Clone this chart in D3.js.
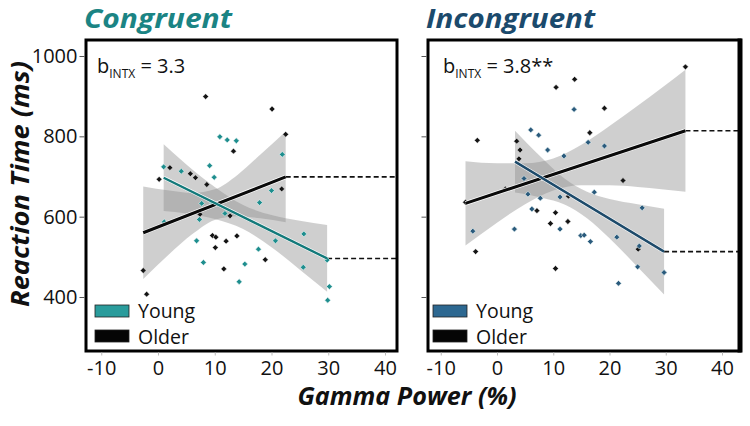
<!DOCTYPE html>
<html><head><meta charset="utf-8">
<script src="https://cdn.jsdelivr.net/npm/d3@7"></script>
<style>body{margin:0;background:#fff}svg{display:block}</style>
</head><body><svg id="c" width="750" height="426"></svg>
<script>
// ---------- data ----------
const panels = ["Congruent", "Incongruent"];
const annotations = ["3.3", "3.8**"];
const xTicks = [-10, 0, 10, 20, 30, 40];
const yTicks = [400, 600, 800, 1000];
const groups = ["Young", "Older"];

// Congruent
const congYoung = [[10.9,799],[12.2,791],[13.8,789],[21.9,755],[1,724],[4.1,713],[9.1,727],[9.9,698],[20,665],[17.9,635],[7.7,633],[9.5,636],[7.3,593],[1.1,587],[11.8,608],[6.8,540],[20.7,540],[25.7,557],[17.7,519],[8,486],[15.3,482],[25.6,474],[29.8,492],[14.3,438],[30.2,426],[29.9,392]];
const congOlder = [[8.4,899],[20.1,868],[22.5,805],[13.3,763],[2.1,722],[0.2,693],[5.7,707],[6.6,697],[8.6,680],[21.8,669],[12.7,602],[7.4,606],[9.6,553],[10.2,549],[12,539],[13.9,552],[10.1,523],[18.9,493],[11.6,470],[-2.6,466],[-2,407]];
const congYoungFit = [[1,697],[29.8,496]];
const congOlderFit = [[-2.6,560],[22.5,699]];
const congYoungBand = [[1,614,780],[5,608,730],[10,594,674],[15,569,629],[20,524,604],[25,468,590],[29.8,413,579]];
const congOlderBand = [[-2.6,445,675],[2,507,665],[6,556,659],[10,592,668],[14,601,704],[18,596,754],[22.5,586,812]];

// Incongruent
const incYoung = [[13.7,867],[6,816],[7.4,803],[16.2,785],[19.1,776],[9,766],[11.9,751],[4.8,695],[5.5,656],[7.7,646],[11.2,649],[17.3,661],[25.8,622],[6.2,619],[-4.3,564],[3.1,569],[11.2,569],[14.9,553],[15.5,554],[16.6,538],[21.3,549],[25.3,527],[25,475],[29.7,461],[21.6,434]];
const incOlder = [[33.5,973],[10.5,922],[13.8,942],[19.1,870],[-3.5,790],[16.5,809],[3.5,788],[4.1,766],[3.9,744],[22.4,690],[1.5,669],[-5.6,636],[12.7,651],[7.1,615],[10.4,610],[9.5,583],[12.6,588],[-3.8,513],[25.1,519],[10.4,471]];
const incYoungFit = [[3.2,737],[29.7,513]];
const incOlderFit = [[-5.6,633],[33.5,814]];
const incYoungBand = [[3.2,660,814],[8,647,746],[12,630,695],[16,596,662],[20,546,644],[25,475,631],[29.7,406,620]];
const incOlderBand = [[-5.6,528,738],[0,585,733],[5,631,733],[10,665,745],[15,678,779],[20,678,826],[25,674,876],[33.5,662,966]];

// ---------- drawing ----------
const svg = d3.select("#c");
const FONT = "'Open Sans', 'Noto Sans', sans-serif";
const cfg = [
  {name: panels[0], ann: annotations[0], left: 86, right: 397, x0: 158, x40: 385, titleW: 148, annX: 97, legX: 95,
   title: "#1b8484", young: "#1e8e8e", youngLine: "#13797a", legend: "#2a9c9c",
   yPts: congYoung, oPts: congOlder, yFit: congYoungFit, oFit: congOlderFit,
   yBand: congYoungBand, oBand: congOlderBand, showYLabels: true, rightW: 3},
  {name: panels[1], ann: annotations[1], left: 428, right: 740, x0: 497, x40: 722, titleW: 169, annX: 443, legX: 433,
   title: "#1b4a6c", young: "#2a5a7c", youngLine: "#1d4a6a", legend: "#2d6891",
   yPts: incYoung, oPts: incOlder, yFit: incYoungFit, oFit: incOlderFit,
   yBand: incYoungBand, oBand: incOlderBand, showYLabels: false, rightW: 5}
];
const frameTop = 40, frameBottom = 351;
const y = d3.scaleLinear().domain([400, 1000]).range([297, 56]);

cfg.forEach((p, i) => {
  const x = d3.scaleLinear().domain([0, 40]).range([p.x0, p.x40]);
  const g = svg.append("g");
  const clipId = "clip" + i;
  svg.append("clipPath").attr("id", clipId).append("rect")
    .attr("x", p.left).attr("y", frameTop).attr("width", p.right - p.left).attr("height", frameBottom - frameTop);
  const inner = g.append("g").attr("clip-path", `url(#${clipId})`);

  // bands
  const area = d3.area().x(d => x(d[0])).y0(d => y(d[1])).y1(d => y(d[2])).curve(d3.curveMonotoneX);
  [p.oBand, p.yBand].forEach(b => {
    inner.append("path").attr("d", area(b)).attr("fill", "#8c8c8c").attr("fill-opacity", 0.42);
  });

  // dashed extensions
  [p.yFit, p.oFit].forEach(f => {
    const e = f[1];
    inner.append("line").attr("x1", x(e[0])).attr("x2", p.right).attr("y1", y(e[1])).attr("y2", y(e[1]))
      .attr("stroke", "#111").attr("stroke-width", 1.6).attr("stroke-dasharray", "5,3");
  });

  // points
  const sym = d3.symbol().type(d3.symbolSquare).size(17);
  inner.selectAll(".po").data(p.oPts).join("path")
    .attr("transform", d => `translate(${x(d[0])},${y(d[1])}) rotate(45)`).attr("d", sym)
    .attr("fill", "#141414").attr("stroke", "#f2f2f2").attr("stroke-width", 0.5);
  inner.selectAll(".py").data(p.yPts).join("path")
    .attr("transform", d => `translate(${x(d[0])},${y(d[1])}) rotate(45)`).attr("d", sym)
    .attr("fill", p.young).attr("stroke", "#e6f2f2").attr("stroke-width", 0.6);

  // fit lines
  const line = d3.line().x(d => x(d[0])).y(d => y(d[1]));
  inner.append("path").attr("d", line(p.oFit)).attr("stroke", "#fff").attr("stroke-width", 4.5).attr("fill", "none");
  inner.append("path").attr("d", line(p.oFit)).attr("stroke", "#0a0a0a").attr("stroke-width", 3).attr("fill", "none");
  inner.append("path").attr("d", line(p.yFit)).attr("stroke", "#fff").attr("stroke-width", 3.6).attr("fill", "none");
  inner.append("path").attr("d", line(p.yFit)).attr("stroke", p.youngLine).attr("stroke-width", 2.4).attr("fill", "none");

  // frame
  g.append("rect").attr("x", p.left).attr("y", frameTop).attr("width", p.right - p.left).attr("height", frameBottom - frameTop)
    .attr("fill", "none").attr("stroke", "#000").attr("stroke-width", 3);
  if (p.rightW > 3) {
    g.append("line").attr("x1", p.right).attr("x2", p.right).attr("y1", frameTop - 1.5).attr("y2", frameBottom + 1.5)
      .attr("stroke", "#000").attr("stroke-width", p.rightW);
  }

  // y axis
  const yAxis = d3.axisLeft(y).tickValues(yTicks).tickSize(5).tickPadding(2)
    .tickFormat(p.showYLabels ? (d => String(d)) : "");
  const ya = g.append("g").attr("transform", `translate(${p.left - 1.5},0)`).call(yAxis);
  ya.select(".domain").remove();
  ya.selectAll("line").attr("stroke", "#555");
  ya.selectAll("text").attr("font-family", FONT).attr("font-size", 20).attr("fill", "#111");

  // x axis
  const xAxis = d3.axisBottom(x).tickValues(xTicks).tickSize(3).tickPadding(5).tickFormat(d => String(d));
  const xa = g.append("g").attr("transform", `translate(0,${frameBottom + 1.5})`).call(xAxis);
  xa.select(".domain").remove();
  xa.selectAll("line").attr("stroke", "#bbb");
  xa.selectAll("text").attr("font-family", FONT).attr("font-size", 20).attr("fill", "#111");

  // title
  g.append("text").attr("x", p.left - 2).attr("y", 28).text(p.name)
    .attr("font-family", FONT).attr("font-weight", 700).attr("font-style", "italic")
    .attr("font-size", 26).attr("fill", p.title)
    .attr("textLength", p.titleW).attr("lengthAdjust", "spacingAndGlyphs");

  // annotation
  const t = g.append("text").attr("x", p.annX).attr("y", 73)
    .attr("font-family", FONT).attr("font-size", 20).attr("fill", "#111");
  t.append("tspan").text("b");
  t.append("tspan").text("INTX").attr("font-size", 12).attr("dy", 5);
  t.append("tspan").text(" = " + p.ann).attr("dy", -5);

  // legend
  const lx = p.legX;
  const lg = g.append("g");
  [[groups[0], p.legend, 305, 318], [groups[1], "#050505", 330, 344]].forEach(([lab, col, yy, tb]) => {
    lg.append("rect").attr("x", lx).attr("y", yy).attr("width", 34).attr("height", 12)
      .attr("fill", col).attr("stroke", "#222").attr("stroke-width", 0.8);
    lg.append("text").attr("x", lx + 43).attr("y", tb).text(lab)
      .attr("font-family", FONT).attr("font-size", 19.5).attr("fill", "#111");
  });
});

// axis titles
svg.append("text").attr("transform", "translate(29,184) rotate(-90)").attr("text-anchor", "middle")
  .text("Reaction Time (ms)").attr("font-family", FONT).attr("font-weight", 700).attr("font-style", "italic")
  .attr("font-size", 25).attr("fill", "#111")
  .attr("textLength", 246).attr("lengthAdjust", "spacingAndGlyphs");
svg.append("text").attr("x", 407).attr("y", 405).attr("text-anchor", "middle")
  .text("Gamma Power (%)").attr("font-family", FONT).attr("font-weight", 700).attr("font-style", "italic")
  .attr("font-size", 25).attr("fill", "#111")
  .attr("textLength", 219).attr("lengthAdjust", "spacingAndGlyphs");
</script></body></html>
